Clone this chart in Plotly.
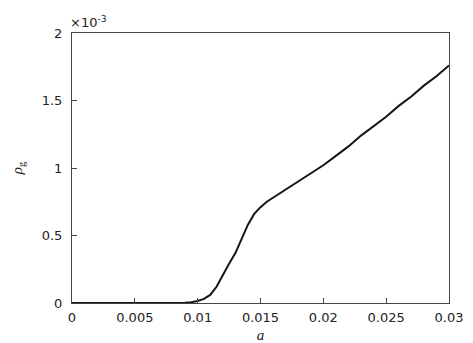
import plotly.graph_objects as go

a_vals = [0.0, 0.002, 0.004, 0.006, 0.008, 0.009, 0.0095, 0.01, 0.0105, 0.011, 0.0115, 0.012,
          0.0125, 0.013, 0.0135, 0.014, 0.0145, 0.015, 0.0155, 0.016, 0.017, 0.018, 0.019,
          0.02, 0.021, 0.022, 0.023, 0.024, 0.025, 0.026, 0.027, 0.028, 0.029, 0.03]
rho_vals = [0.0, 0.0, 0.0, 0.0, 0.0, 0.002, 0.006, 0.015, 0.03, 0.06, 0.12, 0.21,
            0.29, 0.37, 0.47, 0.58, 0.66, 0.71, 0.75, 0.78, 0.84, 0.90, 0.96,
            1.02, 1.09, 1.16, 1.24, 1.31, 1.38, 1.46, 1.53, 1.61, 1.68, 1.76]

x_ticks = [0, 0.005, 0.01, 0.015, 0.02, 0.025, 0.03]
x_tick_labels = ["0", "0.005", "0.01", "0.015", "0.02", "0.025", "0.03"]
y_ticks = [0, 0.5, 1, 1.5, 2]
y_tick_labels = ["0", "0.5", "1", "1.5", "2"]

fig = go.Figure()
fig.add_trace(go.Scatter(x=a_vals, y=rho_vals, mode="lines",
                         line=dict(color="#151515", width=2), showlegend=False))

axis_common = dict(showgrid=False, zeroline=False, showline=True, linecolor="#444444",
                   linewidth=1, mirror=True, ticks="inside", ticklen=5, tickcolor="#444444",
                   automargin=False,
                   tickfont=dict(family="DejaVu Sans", size=13, color="#222222"))

fig.update_layout(
    width=465, height=335,
    margin=dict(l=64, r=24, t=25, b=40),
    plot_bgcolor="white", paper_bgcolor="white",
    xaxis=dict(range=[0, 0.03], tickvals=x_ticks, ticktext=x_tick_labels, **axis_common,
               ticklabelstandoff=2,
               title=dict(text="<i>a</i>", standoff=14,
                          font=dict(family="Liberation Serif, Times New Roman", size=15, color="#222222"))),
    yaxis=dict(range=[0, 2], tickvals=y_ticks, ticktext=y_tick_labels, **axis_common,
               ticklabelstandoff=6,
               title=dict(text="<i>ρ</i><sub>g</sub>", standoff=15,
                          font=dict(family="Liberation Serif, Times New Roman", size=15, color="#222222"))),
    annotations=[dict(text="×10<sup>-3</sup>", xref="paper", yref="paper", x=0, y=1,
                      xanchor="left", yanchor="bottom", yshift=1, xshift=-4, showarrow=False,
                      font=dict(family="DejaVu Sans", size=13, color="#222222"))],
)

fig.write_html("out.html")
